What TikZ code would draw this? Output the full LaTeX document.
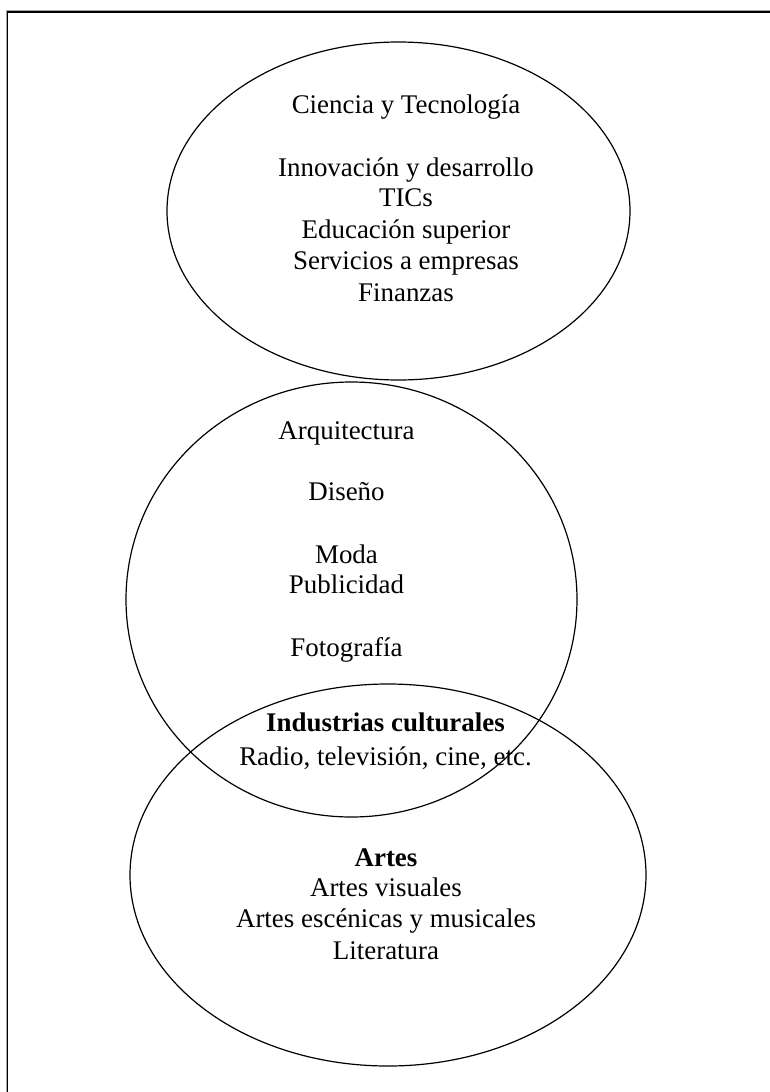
\documentclass[tikz,border=0pt]{standalone}
\usepackage{fontspec}
\setmainfont{Liberation Serif}
\usetikzlibrary{shapes.geometric}
\begin{document}
\begin{tikzpicture}[x=0.75pt,y=-0.75pt,
  oval/.style={draw,ellipse,line width=0.9pt,inner sep=0pt},
  lbl/.style={inner sep=0pt,anchor=base,align=center,font=\fontsize{20.2pt}{23.25pt}\selectfont}]
\useasboundingbox (0,0) rectangle (769,1092);
% frame (only top and left edges visible)
\coordinate (fa) at (7.5,1100);
\coordinate (fb) at (7.5,12);
\coordinate (fc) at (780,12);
\draw[line width=1.4pt,gray!70] ([xshift=-0.6pt]fa) -- ([xshift=-0.6pt,yshift=0.6pt]fb) -- ([yshift=0.6pt]fc);
\draw[line width=1.1pt] (fa) -- (fb) -- (fc);
% ellipses
\node[oval,minimum width=463*0.75pt,minimum height=338*0.75pt] (ct) at (398.5,211) {};
\node[oval,minimum width=451*0.75pt,minimum height=435*0.75pt] (cr) at (351.5,599.5) {};
\node[oval,minimum width=516*0.75pt,minimum height=382*0.75pt] (ar) at (388,875) {};
% texts
\node[lbl] (t1) at (406,113.3) {Ciencia y Tecnología};
\node[lbl] (t2) at (406,176.7) {Innovación y desarrollo};
\node[lbl] (t3) at (406,206.7) {TICs};
\node[lbl] (t4) at (406,238) {Educación superior};
\node[lbl] (t5) at (406,269) {Servicios a empresas};
\node[lbl] (t6) at (406,301.7) {Finanzas};
\node[lbl] (m1) at (346.5,439) {Arquitectura};
\node[lbl] (m2) at (346.5,500.7) {Diseño};
\node[lbl] (m3) at (346.5,563) {Moda};
\node[lbl] (m4) at (346.5,593) {Publicidad};
\node[lbl] (m5) at (346.5,656.7) {Fotografía};
\node[lbl] (i1) at (385.5,731.7) {\textbf{Industrias culturales}};
\node[lbl] (i2) at (385.5,765) {Radio, televisión, cine, etc.};
\node[lbl] (a1) at (386,866) {\textbf{Artes}};
\node[lbl] (a2) at (386,896.7) {Artes visuales};
\node[lbl] (a3) at (386,927) {Artes escénicas y musicales};
\node[lbl] (a4) at (386,959) {Literatura};
\end{tikzpicture}
\end{document}
